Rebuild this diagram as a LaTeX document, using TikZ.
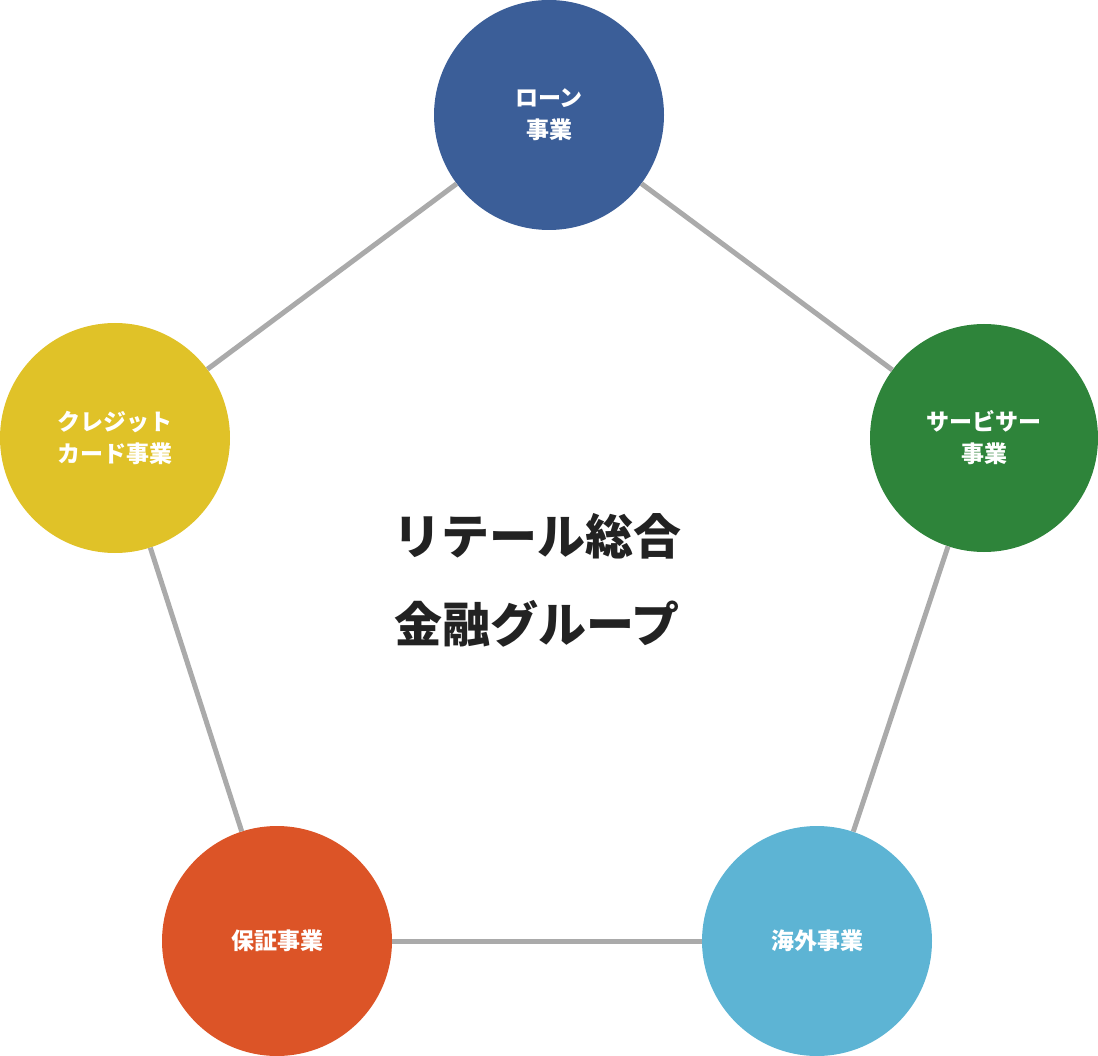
\documentclass[tikz,border=0pt]{standalone}
\usepackage{fontspec}
\newfontfamily\cjk{Noto Sans CJK JP}
\definecolor{cA}{HTML}{3B5E98}
\definecolor{cB}{HTML}{2E843A}
\definecolor{cC}{HTML}{E0C228}
\definecolor{cD}{HTML}{DC5427}
\definecolor{cE}{HTML}{5DB4D4}
\definecolor{lg}{HTML}{AAAAAA}
\definecolor{tx}{HTML}{222222}
\tikzset{biz/.style={circle,minimum size=230pt,inner sep=0pt,text=white,align=center,font=\cjk\bfseries\fontsize{23}{32}\selectfont},
link/.style={draw=lg,line width=5pt}}
\begin{document}
\begin{tikzpicture}[x=1pt,y=-1pt]
\useasboundingbox (0,0) rectangle (1098,1056);
\node[biz,fill=cA] (a) at (549,115) {ローン\\事業};
\node[biz,fill=cB,minimum size=228pt] (b) at (984,438) {サービサー\\事業};
\node[biz,fill=cC] (c) at (115,438) {クレジット\\カード事業};
\node[biz,fill=cD] (d) at (277,941) {保証事業};
\node[biz,fill=cE] (e) at (817,941) {海外事業};
\node[text=tx,align=center,font=\cjk\bfseries\fontsize{48}{88}\selectfont] (m) at (537,580) {リテール総合\\金融グループ};
\draw[link] (a) -- (b);
\draw[link] (b) -- (e);
\draw[link] (e) -- (d);
\draw[link] (d) -- (c);
\draw[link] (c) -- (a);
\end{tikzpicture}
\end{document}
